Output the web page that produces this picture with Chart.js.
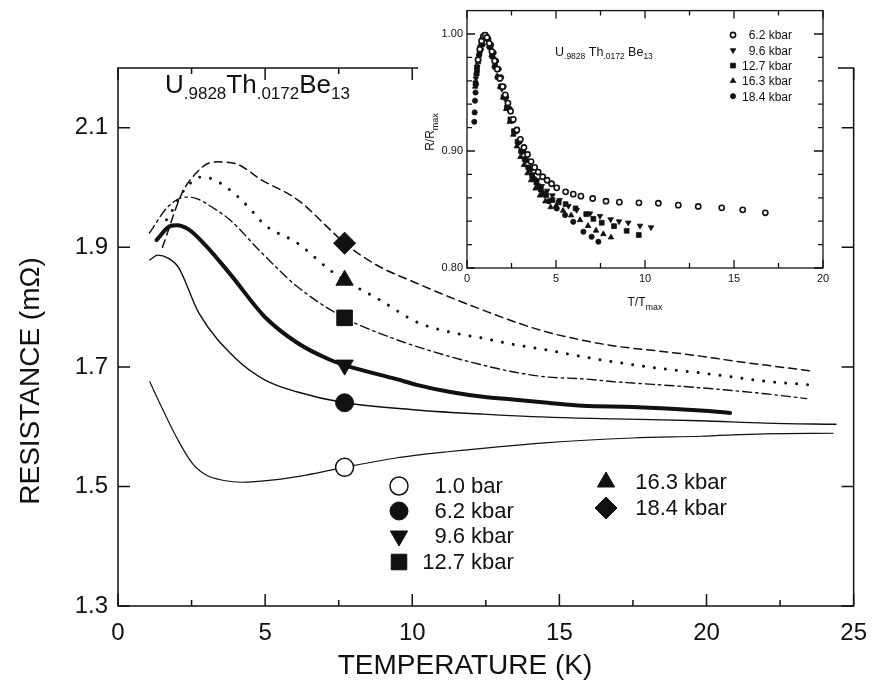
<!DOCTYPE html>
<html>
<head>
<meta charset="utf-8">
<script src="https://cdn.jsdelivr.net/npm/chart.js@4.4.0/dist/chart.umd.min.js"></script>
<style>
  body { margin: 0; background: #fff; }
  #wrap { position: relative; width: 880px; height: 690px; }
  #main { position: absolute; left: 0; top: 0; }
  #inset { position: absolute; left: 418px; top: 0; }
</style>
</head>
<body>
<div id="wrap">
  <canvas id="main" width="880" height="690"></canvas>
  <canvas id="inset" width="420" height="320"></canvas>
</div>
<script>
const FONT = '"Liberation Sans", Arial, sans-serif';
const INK = '#111';

// ---- main chart: resistance vs temperature
const xTicks = [0, 5, 10, 15, 20, 25];
const xMinorTicks = [2.5, 7.5, 12.5, 17.5, 22.5];
const yTicks = [1.3, 1.5, 1.7, 1.9, 2.1];

const T_1bar = [1.08, 1.41, 1.98, 2.52, 3.0, 3.6, 4.2, 5.3, 6.4, 7.7, 9.5, 11.2, 14.5, 17.5, 19.8, 22.0, 24.3];
const R_1bar = [1.675, 1.640, 1.583, 1.539, 1.519, 1.510, 1.507, 1.511, 1.519, 1.532, 1.548, 1.558, 1.573, 1.581, 1.584, 1.588, 1.589];

const T_62 = [1.08, 1.35, 1.7, 2.05, 2.75, 4.0, 5.0, 6.1, 7.7, 10.15, 12.4, 14.6, 16.9, 19.8, 22.0, 24.4];
const R_62 = [1.879, 1.887, 1.882, 1.867, 1.790, 1.714, 1.678, 1.658, 1.640, 1.628, 1.621, 1.616, 1.613, 1.610, 1.606, 1.604];

const T_96 = [1.31, 1.75, 2.0, 2.4, 3.0, 3.8, 5.0, 6.1, 7.2, 7.7, 9.5, 10.15, 11.3, 12.4, 13.5, 14.6, 15.8, 17.5, 19.8, 20.8];
const R_96 = [1.912, 1.935, 1.937, 1.930, 1.902, 1.856, 1.783, 1.740, 1.712, 1.703, 1.679, 1.670, 1.658, 1.650, 1.645, 1.640, 1.635, 1.633, 1.627, 1.623];

const T_127 = [1.07, 1.7, 2.3, 2.65, 3.2, 3.8, 4.9, 6.1, 7.7, 9.5, 11.3, 12.4, 13.5, 14.6, 15.8, 16.9, 17.5, 19.8, 22.0, 23.4];
const R_127 = [1.924, 1.968, 1.984, 1.982, 1.967, 1.946, 1.890, 1.834, 1.782, 1.745, 1.717, 1.703, 1.691, 1.683, 1.680, 1.675, 1.673, 1.665, 1.655, 1.647];

const T_163 = [1.65, 1.85, 2.25, 2.5, 2.86, 3.27, 3.67, 4.2, 4.53, 5.0, 6.1, 7.2, 7.7, 8.9, 10.15, 11.3, 12.4, 13.5, 14.6, 15.8, 16.9, 18.65, 19.8, 20.9, 22.0, 23.5];
const R_163 = [1.946, 1.962, 1.996, 2.009, 2.018, 2.013, 2.001, 1.979, 1.962, 1.937, 1.907, 1.862, 1.845, 1.812, 1.775, 1.758, 1.748, 1.737, 1.728, 1.717, 1.708, 1.696, 1.690, 1.683, 1.676, 1.670];

const T_184 = [1.51, 2.18, 2.65, 3.09, 3.43, 4.1, 4.87, 6.12, 7.22, 7.7, 8.8, 10.15, 11.26, 12.4, 13.5, 14.6, 15.76, 16.87, 18.65, 19.8, 20.9, 22.0, 23.6];
const R_184 = [1.900, 1.991, 2.024, 2.041, 2.043, 2.038, 2.013, 1.979, 1.929, 1.907, 1.870, 1.840, 1.817, 1.795, 1.775, 1.758, 1.745, 1.735, 1.725, 1.718, 1.710, 1.703, 1.693];

const markerT = 7.7;
const markerR = [1.532, 1.640, 1.703, 1.782, 1.845, 1.907];
const legendLabels = ['1.0 bar', '6.2 kbar', '9.6 kbar', '12.7 kbar', '16.3 kbar', '18.4 kbar'];

// ---- inset: R/Rmax vs T/Tmax
const ixTicks = [0, 5, 10, 15, 20];
const ixMinorTicks = [2.5, 7.5, 12.5, 17.5];
const iyTicks = [0.80, 0.90, 1.00];
const iyMinorTicks = [0.82, 0.84, 0.86, 0.88, 0.92, 0.94, 0.96, 0.98];

const iT_62 = [0.62, 0.72, 0.82, 0.92, 1.02, 1.12, 1.25, 1.4, 1.55, 1.7, 1.85, 2.0, 2.15, 2.3, 2.45, 2.6, 2.8, 3.0, 3.2, 3.4, 3.6, 3.8, 4.0, 4.25, 4.5, 4.75, 5.04, 5.54, 5.97, 6.40, 7.06, 7.81, 8.56, 9.66, 10.75, 11.87, 12.99, 14.31, 15.49, 16.76];
const iR_62 = [0.978, 0.987, 0.994, 0.998, 0.999, 0.997, 0.992, 0.985, 0.977, 0.970, 0.962, 0.955, 0.948, 0.941, 0.934, 0.927, 0.918, 0.910, 0.903, 0.897, 0.891, 0.886, 0.882, 0.878, 0.875, 0.872, 0.8685, 0.8651, 0.8631, 0.8614, 0.8594, 0.8571, 0.8563, 0.8557, 0.8554, 0.8537, 0.8526, 0.8514, 0.8497, 0.8472];

const iT_96 = [0.5, 0.58, 0.66, 0.75, 0.85, 0.95, 1.05, 1.18, 1.32, 1.48, 1.64, 1.8, 1.96, 2.12, 2.3, 2.5, 2.7, 2.9, 3.1, 3.3, 3.5, 3.7, 3.95, 4.2, 4.5, 4.8, 5.2, 5.7, 6.16, 6.91, 7.47, 8.07, 8.54, 9.06, 9.72, 10.34];
const iR_96 = [0.962, 0.972, 0.981, 0.989, 0.995, 0.998, 0.998, 0.994, 0.987, 0.979, 0.970, 0.962, 0.953, 0.945, 0.936, 0.926, 0.916, 0.907, 0.899, 0.892, 0.886, 0.880, 0.875, 0.870, 0.866, 0.862, 0.858, 0.853, 0.8495, 0.8466, 0.8444, 0.8415, 0.8398, 0.8387, 0.8361, 0.8347];

const iT_127 = [0.48, 0.56, 0.64, 0.72, 0.82, 0.92, 1.02, 1.14, 1.28, 1.42, 1.58, 1.74, 1.9, 2.06, 2.24, 2.44, 2.64, 2.84, 3.04, 3.24, 3.44, 3.66, 3.9, 4.15, 4.45, 4.8, 5.15, 5.54, 6.1, 6.7, 7.1, 7.57, 8.26, 8.97, 9.65];
const iR_127 = [0.958, 0.969, 0.978, 0.986, 0.993, 0.997, 0.999, 0.996, 0.989, 0.981, 0.972, 0.963, 0.955, 0.946, 0.937, 0.927, 0.917, 0.908, 0.900, 0.893, 0.886, 0.879, 0.873, 0.867, 0.862, 0.858, 0.856, 0.8546, 0.851, 0.846, 0.842, 0.8387, 0.8358, 0.8318, 0.8282];

const iT_163 = [0.46, 0.54, 0.62, 0.7, 0.8, 0.9, 1.0, 1.1, 1.24, 1.38, 1.54, 1.7, 1.86, 2.02, 2.2, 2.4, 2.6, 2.8, 3.0, 3.2, 3.4, 3.6, 3.85, 4.1, 4.4, 4.7, 5.0, 5.4, 5.85, 6.35, 6.8, 7.25, 7.66, 8.09];
const iR_163 = [0.955, 0.966, 0.976, 0.985, 0.992, 0.997, 0.999, 0.997, 0.990, 0.982, 0.973, 0.964, 0.955, 0.946, 0.936, 0.925, 0.914, 0.904, 0.895, 0.888, 0.881, 0.875, 0.868, 0.862, 0.857, 0.852, 0.853, 0.849, 0.845, 0.841, 0.836, 0.832, 0.829, 0.8262];

const iT_184 = [0.41, 0.43, 0.45, 0.48, 0.5, 0.53, 0.56, 0.62, 0.69, 0.78, 0.88, 0.98, 1.08, 1.2, 1.36, 1.5, 1.64, 1.78, 1.92, 2.06, 2.2, 2.4, 2.58, 2.78, 2.96, 3.15, 3.33, 3.55, 3.8, 4.05, 4.29, 4.6, 5.04, 5.51, 5.97, 6.54, 7.0, 7.38];
const iR_184 = [0.925, 0.933, 0.943, 0.950, 0.957, 0.966, 0.972, 0.978, 0.982, 0.987, 0.991, 0.997, 0.998, 0.996, 0.991, 0.984, 0.977, 0.970, 0.963, 0.955, 0.946, 0.936, 0.926, 0.917, 0.908, 0.900, 0.892, 0.884, 0.876, 0.870, 0.8637, 0.857, 0.8509, 0.8452, 0.8395, 0.8310, 0.8267, 0.8225];

const insetLabels = ['6.2 kbar', '9.6 kbar', '12.7 kbar', '16.3 kbar', '18.4 kbar'];

function pts(xs, ys) {
  return xs.map((x, i) => ({ x: x, y: ys[i] }));
}

// draws text with subscripts, returns total width
function subText(ctx, parts, x, y, big, small, dy, measureOnly) {
  let w = 0;
  parts.forEach(p => {
    ctx.font = (p[1] ? small : big) + 'px ' + FONT;
    if (!measureOnly) ctx.fillText(p[0], x + w, p[1] ? y + dy : y);
    w += ctx.measureText(p[0]).width;
  });
  return w;
}

function point(ctx, style, x, y) {
  ctx.save();
  ctx.fillStyle = style.fill;
  ctx.strokeStyle = INK;
  ctx.lineWidth = style.border;
  Chart.helpers.drawPoint(ctx, { pointStyle: style.shape, radius: style.radius, rotation: style.rotation, borderWidth: style.border }, x, y);
  ctx.restore();
}

const markerStyles = [
  { shape: 'circle', radius: 9, rotation: 0, fill: '#fff', border: 1.5 },
  { shape: 'circle', radius: 9, rotation: 0, fill: INK, border: 1 },
  { shape: 'triangle', radius: 10, rotation: 180, fill: INK, border: 1 },
  { shape: 'rect', radius: 11, rotation: 0, fill: INK, border: 1 },
  { shape: 'triangle', radius: 10, rotation: 0, fill: INK, border: 1 },
  { shape: 'rectRot', radius: 11, rotation: 0, fill: INK, border: 1 }
];

const curveStyles = [
  { w: 1.2, dash: [] },
  { w: 1.4, dash: [] },
  { w: 4, dash: [] },
  { w: 1.4, dash: [9, 4, 2.5, 4] },
  { w: 3, dash: [0.01, 11] },
  { w: 1.5, dash: [8, 5] }
];

const curveData = [pts(T_1bar, R_1bar), pts(T_62, R_62), pts(T_96, R_96), pts(T_127, R_127), pts(T_163, R_163), pts(T_184, R_184)];

const datasets = [];
curveData.forEach((d, i) => {
  datasets.push({
    label: legendLabels[i] + ' curve',
    data: d,
    showLine: true,
    borderColor: INK,
    borderWidth: curveStyles[i].w,
    borderDash: curveStyles[i].dash,
    borderCapStyle: 'round',
    cubicInterpolationMode: 'monotone',
    pointRadius: 0,
    order: 2
  });
});
markerR.forEach((r, i) => {
  const s = markerStyles[i];
  datasets.push({
    label: legendLabels[i],
    data: [{ x: markerT, y: r }],
    pointStyle: s.shape,
    pointRadius: s.radius,
    pointRotation: s.rotation,
    pointBackgroundColor: s.fill,
    pointBorderColor: INK,
    pointBorderWidth: s.border,
    order: 1
  });
});

const mainDecor = {
  id: 'mainDecor',
  afterDraw(chart) {
    const { ctx, chartArea: a, scales: { x, y } } = chart;
    ctx.save();
    ctx.strokeStyle = INK;
    ctx.lineWidth = 1.5;
    ctx.strokeRect(a.left, a.top, a.right - a.left, a.bottom - a.top);
    ctx.beginPath();
    xTicks.forEach(v => {
      const px = x.getPixelForValue(v);
      ctx.moveTo(px, a.bottom); ctx.lineTo(px, a.bottom - 12);
      ctx.moveTo(px, a.top); ctx.lineTo(px, a.top + 12);
    });
    xMinorTicks.forEach(v => {
      const px = x.getPixelForValue(v);
      ctx.moveTo(px, a.bottom); ctx.lineTo(px, a.bottom - 6);
      ctx.moveTo(px, a.top); ctx.lineTo(px, a.top + 6);
    });
    yTicks.forEach(v => {
      const py = y.getPixelForValue(v);
      ctx.moveTo(a.left, py); ctx.lineTo(a.left + 12, py);
      ctx.moveTo(a.right, py); ctx.lineTo(a.right - 12, py);
    });
    ctx.stroke();

    ctx.fillStyle = INK;
    ctx.textBaseline = 'middle';
    ctx.textAlign = 'center';
    ctx.font = '28px ' + FONT;
    ctx.fillText('TEMPERATURE (K)', 465, 666);
    ctx.save();
    ctx.translate(31, 381);
    ctx.rotate(-Math.PI / 2);
    ctx.fillText('RESISTANCE (m\u03A9)', 0, 0);
    ctx.restore();

    // formula
    ctx.textAlign = 'left';
    ctx.textBaseline = 'alphabetic';
    subText(ctx, [['U', 0], ['.9828', 1], ['Th', 0], ['.0172', 1], ['Be', 0], ['13', 1]], 165, 93, 26, 17, 6);

    // legend
    const slots = [[399, 465, 486], [399, 465, 511], [399, 465, 536], [399, 465, 562], [606, 678, 482], [606, 678, 508]];
    legendLabels.forEach((lab, i) => {
      const [mx, nx, ly] = slots[i];
      point(ctx, markerStyles[i], mx, ly);
      const sp = lab.indexOf(' ');
      ctx.font = '22px ' + FONT;
      ctx.textBaseline = 'middle';
      ctx.textAlign = 'right';
      ctx.fillText(lab.slice(0, sp), nx, ly + 1);
      ctx.textAlign = 'left';
      ctx.fillText(lab.slice(sp), nx, ly + 1);
    });
    ctx.restore();
  }
};

new Chart(document.getElementById('main'), {
  type: 'scatter',
  data: { datasets: datasets },
  options: {
    responsive: false,
    animation: false,
    layout: { padding: { top: 68, right: 20, left: 0, bottom: 0 } },
    plugins: { legend: { display: false }, tooltip: { enabled: false } },
    scales: {
      x: {
        min: 0, max: 25,
        afterBuildTicks: s => { s.ticks = xTicks.map(v => ({ value: v })); },
        afterFit: s => { s.height = 84; },
        grid: { display: false, drawTicks: false },
        border: { display: false },
        ticks: { font: { family: FONT, size: 24 }, color: INK, padding: 13, maxRotation: 0 }
      },
      y: {
        min: 1.3, max: 2.2,
        afterBuildTicks: s => { s.ticks = yTicks.map(v => ({ value: v })); },
        afterFit: s => { s.width = 118; },
        grid: { display: false, drawTicks: false },
        border: { display: false },
        ticks: { font: { family: FONT, size: 24 }, color: INK, padding: 10 }
      }
    }
  },
  plugins: [mainDecor]
});

// ---- inset
const insetStyles = [
  { shape: 'circle', radius: 2.6, rotation: 0, fill: '#fff', border: 1.6 },
  { shape: 'triangle', radius: 3.2, rotation: 180, fill: INK, border: 0.8 },
  { shape: 'rect', radius: 3.4, rotation: 0, fill: INK, border: 0.8 },
  { shape: 'triangle', radius: 3.2, rotation: 0, fill: INK, border: 0.8 },
  { shape: 'circle', radius: 2.6, rotation: 0, fill: INK, border: 0.8 }
];
const insetData = [pts(iT_62, iR_62), pts(iT_96, iR_96), pts(iT_127, iR_127), pts(iT_163, iR_163), pts(iT_184, iR_184)];

const insetDecor = {
  id: 'insetDecor',
  beforeDraw(chart) {
    const { ctx, chartArea: a } = chart;
    ctx.save();
    ctx.fillStyle = '#fff';
    ctx.fillRect(0, 0, chart.width, a.bottom + 2);
    ctx.restore();
  },
  afterDraw(chart) {
    const { ctx, chartArea: a, scales: { x, y } } = chart;
    ctx.save();
    ctx.strokeStyle = INK;
    ctx.lineWidth = 1.3;
    ctx.strokeRect(a.left, a.top, a.right - a.left, a.bottom - a.top);
    ctx.beginPath();
    ixTicks.forEach(v => {
      const px = x.getPixelForValue(v);
      ctx.moveTo(px, a.bottom); ctx.lineTo(px, a.bottom - 8);
      ctx.moveTo(px, a.top); ctx.lineTo(px, a.top + 8);
    });
    ixMinorTicks.forEach(v => {
      const px = x.getPixelForValue(v);
      ctx.moveTo(px, a.bottom); ctx.lineTo(px, a.bottom - 5);
      ctx.moveTo(px, a.top); ctx.lineTo(px, a.top + 5);
    });
    iyTicks.forEach(v => {
      const py = y.getPixelForValue(v);
      ctx.moveTo(a.left, py); ctx.lineTo(a.left + 8, py);
      ctx.moveTo(a.right, py); ctx.lineTo(a.right - 9, py);
    });
    iyMinorTicks.forEach(v => {
      const py = y.getPixelForValue(v);
      ctx.moveTo(a.left, py); ctx.lineTo(a.left + 5, py);
      ctx.moveTo(a.right, py); ctx.lineTo(a.right - 5, py);
    });
    ctx.stroke();

    ctx.fillStyle = INK;
    ctx.textAlign = 'left';
    ctx.textBaseline = 'alphabetic';
    // x title
    const xt = [['T/T', 0], ['max', 1]];
    const xw = subText(ctx, xt, 0, 0, 12, 9, 4, true);
    subText(ctx, xt, (a.left + a.right) / 2 - xw / 2, 306, 12, 9, 4);
    // y title
    ctx.save();
    ctx.translate(16, 132);
    ctx.rotate(-Math.PI / 2);
    const yt = [['R/R', 0], ['max', 1]];
    const yw = subText(ctx, yt, 0, 0, 12, 9, 4, true);
    subText(ctx, yt, -yw / 2, 0, 12, 9, 4);
    ctx.restore();
    // formula
    subText(ctx, [['U', 0], ['.9828', 1], [' Th', 0], ['.0172', 1], [' Be', 0], ['13', 1]], 137, 56, 12.5, 8.5, 3);
    // legend
    insetLabels.forEach((lab, i) => {
      const ly = 35 + i * 15.3;
      point(ctx, insetStyles[i], 315, ly);
      ctx.font = '12px ' + FONT;
      ctx.textAlign = 'right';
      ctx.textBaseline = 'middle';
      ctx.fillText(lab, 374, ly + 1);
    });
    ctx.restore();
  }
};

new Chart(document.getElementById('inset'), {
  type: 'scatter',
  data: {
    datasets: insetData.map((d, i) => ({
      label: insetLabels[i],
      data: d,
      pointStyle: insetStyles[i].shape,
      pointRadius: insetStyles[i].radius,
      pointRotation: insetStyles[i].rotation,
      pointBackgroundColor: insetStyles[i].fill,
      pointBorderColor: INK,
      pointBorderWidth: insetStyles[i].border
    }))
  },
  options: {
    responsive: false,
    animation: false,
    layout: { padding: { top: 10, right: 15, left: 0, bottom: 0 } },
    plugins: { legend: { display: false }, tooltip: { enabled: false } },
    scales: {
      x: {
        min: 0, max: 20,
        afterBuildTicks: s => { s.ticks = ixTicks.map(v => ({ value: v })); },
        afterFit: s => { s.height = 52; },
        grid: { display: false, drawTicks: false },
        border: { display: false },
        ticks: { font: { family: FONT, size: 11 }, color: INK, padding: 4, maxRotation: 0 }
      },
      y: {
        min: 0.8, max: 1.02,
        afterBuildTicks: s => { s.ticks = iyTicks.map(v => ({ value: v })); },
        afterFit: s => { s.width = 49; },
        grid: { display: false, drawTicks: false },
        border: { display: false },
        ticks: { font: { family: FONT, size: 11 }, color: INK, padding: 4, callback: v => v.toFixed(2) }
      }
    }
  },
  plugins: [insetDecor]
});
</script>
</body>
</html>
